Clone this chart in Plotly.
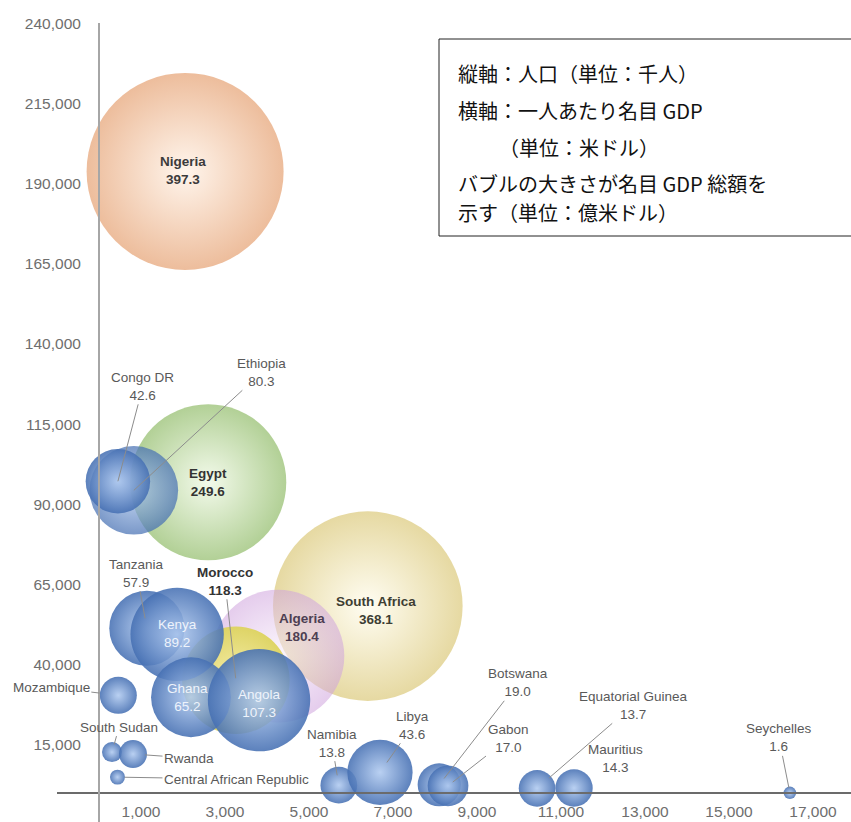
import plotly.graph_objects as go

# ---------------- data ----------------
countries = ["Nigeria", "South Africa", "Algeria", "Morocco", "Egypt", "Tanzania",
             "Kenya", "Ethiopia", "Congo DR", "Ghana", "Angola", "Mozambique",
             "South Sudan", "Rwanda", "Central African Republic", "Namibia", "Libya",
             "Botswana", "Gabon", "Equatorial Guinea", "Mauritius", "Seychelles"]
gdp_per_capita = [2050, 6400, 4260, 3260, 2600, 1140,
                  1860, 830, 450, 2190, 3810, 460,
                  310, 810, 440, 5710, 6690,
                  8100, 8310, 10430, 11310, 16450]
population_k = [193800, 58300, 42700, 35200, 96900, 51400,
                49500, 94400, 97200, 29900, 29000, 30500,
                12800, 12200, 5000, 2500, 6500,
                2600, 2300, 1500, 1600, 100]
gdp_total = [397.3, 368.1, 180.4, 118.3, 249.6, 57.9,
             89.2, 80.3, 42.6, 65.2, 107.3, 14.0,
             4.1, 8.0, 2.3, 13.8, 43.6,
             19.0, 17.0, 13.7, 14.3, 1.6]
show_value = [True] * 11 + [False, False, False, False] + [True] * 7

x_tick_values = [1000, 3000, 5000, 7000, 9000, 11000, 13000, 15000, 17000]
y_tick_values = [15000, 40000, 65000, 90000, 115000, 140000, 165000, 190000, 215000, 240000]
x_tick_labels = [f"{v:,}" for v in x_tick_values]
y_tick_labels = [f"{v:,}" for v in y_tick_values]

note_lines = ["縦軸：人口（単位：千人）",
              "横軸：一人あたり名目 GDP",
              "（単位：米ドル）",
              "バブルの大きさが名目 GDP 総額を",
              "示す（単位：億米ドル）"]

# ---------------- styles ----------------
BLUE, BLUE_HI = "#4670b3", "#b0caf0"
style = {
    "Nigeria": ("#edbd9c", "#fff5ec", 1.0),
    "South Africa": ("#e6d9a2", "#fffdf2", 1.0),
    "Algeria": ("#cfa3dd", "#f8eefb", 0.55),
    "Morocco": ("#ddd35e", "#f6efa6", 0.95),
    "Egypt": ("#b2d096", "#f3faeb", 1.0),
    "Ethiopia": (BLUE, BLUE_HI, 0.72),
}
marker_colors = [style.get(c, (BLUE, BLUE_HI, 0.88))[0] for c in countries]
gradient_colors = [style.get(c, (BLUE, BLUE_HI, 0.88))[1] for c in countries]
opacities = [style.get(c, (BLUE, BLUE_HI, 0.88))[2] for c in countries]

MAX_DIAM = 197  # px for the largest bubble
sizeref = 2.0 * max(gdp_total) / MAX_DIAM ** 2

fig = go.Figure()
fig.add_trace(go.Scatter(
    x=gdp_per_capita, y=population_k, mode="markers",
    marker=dict(size=gdp_total, sizemode="area", sizeref=sizeref,
                color=marker_colors, opacity=opacities,
                gradient=dict(type="radial", color=gradient_colors),
                line=dict(width=0)),
    hoverinfo="skip", showlegend=False))

# ---------------- labels ----------------
LABEL_FONT = "Liberation Sans, Arial, sans-serif"
GRAY = "#595959"
# pixel offsets of outside labels (ax, ay, standoff)
outside = {
    "Congo DR": (25, -95, 0), "Ethiopia": (128, -118, 0), "Tanzania": (-10, -55, 10),
    "Morocco": (-11, -99, 2), "Mozambique": (-67, -8, 19), "South Sudan": (7, -25, 8),
    "Rwanda": (56, 4, 12), "Central African Republic": (119, 2, 7),
    "Namibia": (-7, -42, 10), "Libya": (33, -47, 12), "Botswana": (79, -102, 8),
    "Gabon": (60, -47, 6), "Equatorial Guinea": (96, -83, 16), "Seychelles": (-11, -55, 5),
}
inside = {  # xshift, yshift, color, bold
    "Nigeria": (-2, 1, "#3b3b3b", True), "Egypt": (0, 0, "#333333", True),
    "South Africa": (8, -4, "#3e3e33", True), "Algeria": (24, 29, "#4d3f52", True),
    "Kenya": (0, 1, "#eef3fb", False), "Ghana": (-3, 0, "#eef3fb", False),
    "Angola": (0, -3, "#eef3fb", False),
}
plain_shift = {"Mauritius": (41, 30)}
bold_outside = {"Morocco"}

for name, xv, yv, gv, sv in zip(countries, gdp_per_capita, population_k, gdp_total, show_value):
    text = f"{name}<br>{gv:.1f}" if sv else name
    if name in inside:
        xs, ys, col, bold = inside[name]
        if bold:
            text = f"<b>{name}</b><br><b>{gv:.1f}</b>"
        fig.add_annotation(x=xv, y=yv, text=text, showarrow=False, xshift=xs, yshift=ys,
                           font=dict(family=LABEL_FONT, size=13.5, color=col))
    elif name in outside:
        ax, ay, so = outside[name]
        if name in bold_outside:
            text = f"<b>{name}</b><br><b>{gv:.1f}</b>"
            col = "#333333"
        else:
            col = GRAY
        fig.add_annotation(x=xv, y=yv, text=text, showarrow=True, ax=ax, ay=ay,
                           arrowhead=0, arrowwidth=1, arrowcolor="#8c8c8c", standoff=so,
                           font=dict(family=LABEL_FONT, size=13.5, color=col))
    elif name in plain_shift:
        xs, ys = plain_shift[name]
        fig.add_annotation(x=xv, y=yv, text=text, showarrow=False, xshift=xs, yshift=ys,
                           font=dict(family=LABEL_FONT, size=13.5, color=GRAY))

# ---------------- note box ----------------
W, H = 851, 822
ML, MT = 57, 23
PW, PH = W - ML, H - MT


def px_x(px):
    return (px - ML) / PW


def px_y(py):
    return (H - py) / PH


fig.add_shape(type="rect", xref="paper", yref="paper",
              x0=px_x(439), x1=1.03, y0=px_y(236), y1=px_y(39),
              line=dict(color="#222222", width=1), fillcolor="rgba(0,0,0,0)")
note_y = [73, 111, 147, 183, 212]
note_x = [456, 456, 497, 456, 456]
for line, ly, lx in zip(note_lines, note_y, note_x):
    fig.add_annotation(xref="paper", yref="paper", x=px_x(lx), y=px_y(ly), text=line,
                       showarrow=False, xanchor="left", yanchor="middle",
                       font=dict(family="Noto Sans CJK JP, sans-serif", size=20, color="#111111"))

# ---------------- axes ----------------
fig.update_layout(
    width=W, height=H, margin=dict(l=ML, r=0, t=MT, b=0, pad=0),
    paper_bgcolor="white", plot_bgcolor="white", template=None,
    xaxis=dict(range=[-1000, 17905], tickvals=x_tick_values, ticktext=x_tick_labels,
               showgrid=False, zeroline=False, showline=True, linecolor="#6b6b6b",
               linewidth=1.5, anchor="free", position=px_y(793), ticks="",
               ticklabelstandoff=5, automargin=False,
               tickfont=dict(family=LABEL_FONT, size=15.5, color="#6e6e6e")),
    yaxis=dict(range=[-8987, 240050], tickvals=y_tick_values, ticktext=y_tick_labels,
               showgrid=False, zeroline=False, showline=True, linecolor="#a6a6a6",
               linewidth=2, anchor="free", position=px_x(99), ticks="",
               ticklabelstandoff=14, automargin=False,
               tickfont=dict(family=LABEL_FONT, size=15.5, color="#6e6e6e")),
)

fig.write_html("out.html")
